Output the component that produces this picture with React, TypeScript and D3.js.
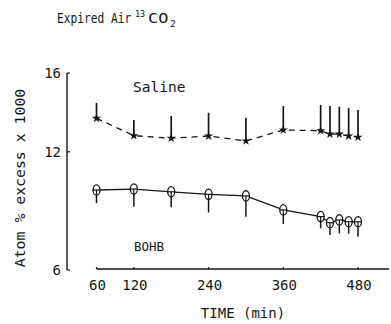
import React from "react";
import * as d3 from "d3";

const times = [60, 120, 180, 240, 300, 360, 420, 435, 450, 465, 480];
const salineMean = [13.7, 12.82, 12.69, 12.8, 12.55, 13.11, 13.07, 12.9, 12.9, 12.8, 12.74];
const salineUpper = [14.48, 13.61, 13.82, 13.98, 13.73, 14.32, 14.38, 14.32, 14.29, 14.22, 14.12];
const bohbMean = [10.06, 10.11, 9.97, 9.84, 9.76, 9.05, 8.71, 8.4, 8.54, 8.45, 8.45];
const bohbLower = [9.39, 9.21, 9.18, 8.92, 8.7, 8.34, 8.12, 7.78, 7.86, 7.84, 7.69];
const xTicks = [60, 120, 240, 360, 480];
const yTicks = [6, 12, 16];

const W = 391;
const H = 324;
const FONT = "'DejaVu Sans Mono', 'Liberation Mono', monospace";
const INK = "#161616";

export default function App() {
  const x = d3.scaleLinear().domain([60, 480]).range([96.5, 358]);
  const y = d3.scaleLinear().domain([6, 16]).range([270, 73]);
  const axisX = 67;
  const axisY = 269;

  const salinePts = times.map((t, i) => [x(t), y(salineMean[i])] as [number, number]);
  const bohbPts = times.map((t, i) => [x(t), y(bohbMean[i])] as [number, number]);
  const line = d3.line();
  const star = d3.symbol().type(d3.symbolStar).size(26)();

  return (
    <svg width={W} height={H} style={{ position: "absolute", left: 0, top: 0, background: "#fff" }}>
      <rect x={0} y={0} width={W} height={H} fill="#fff" />
      {/* title */}
      <text transform="translate(57,23) scale(0.83,1)" fontFamily={FONT} fontSize={13.5} fill={INK}>
        Expired Air
      </text>
      <text x={135} y={16.5} fontFamily={FONT} fontSize={8.5} fill={INK}>
        13
      </text>
      <text transform="translate(148,23) scale(1.25,1)" fontFamily={FONT} fontSize={13.5} fill={INK}>
        CO
      </text>
      <text x={170} y={27} fontFamily={FONT} fontSize={9.5} fill={INK}>
        2
      </text>

      {/* y axis */}
      <line x1={axisX} x2={axisX} y1={y(16)} y2={y(6)} stroke={INK} strokeWidth={1.4} />
      {yTicks.map((v) => (
        <g key={v}>
          <line x1={axisX} x2={axisX + 3} y1={y(v)} y2={y(v)} stroke={INK} strokeWidth={1.2} />
          <text x={61} y={y(v)} dy="0.36em" textAnchor="end" fontFamily={FONT} fontSize={14} fill={INK}>
            {v}
          </text>
        </g>
      ))}
      <text
        transform={`translate(20,178) rotate(-90) scale(1.06,1)`}
        textAnchor="middle"
        dy="0.36em"
        fontFamily={FONT}
        fontSize={14}
        fill={INK}
      >
        Atom % excess x 1000
      </text>

      {/* x axis */}
      <line x1={x(60)} x2={x(530)} y1={axisY} y2={axisY} stroke={INK} strokeWidth={1.4} />
      {xTicks.map((t) => (
        <g key={t}>
          <line x1={x(t)} x2={x(t)} y1={axisY} y2={axisY - 2} stroke={INK} strokeWidth={1.2} />
          <text x={x(t) + 1} y={285} dy="0.36em" textAnchor="middle" fontFamily={FONT} fontSize={14} fill={INK}>
            {t}
          </text>
        </g>
      ))}
      <text x={243} y={313} dy="0.36em" textAnchor="middle" fontFamily={FONT} fontSize={14} fill={INK}>
        TIME (min)
      </text>

      {/* Saline series */}
      <path d={line(salinePts) || ""} fill="none" stroke={INK} strokeWidth={1.3} strokeDasharray="6,5" />
      {times.map((t, i) => (
        <line key={"se" + i} x1={x(t)} x2={x(t)} y1={y(salineMean[i])} y2={y(salineUpper[i])} stroke={INK} strokeWidth={1.7} />
      ))}
      {salinePts.map(([px, py], i) => (
        <path key={"sm" + i} d={star || ""} transform={`translate(${px},${py})`} fill={INK} />
      ))}
      <text x={133} y={87} dy="0.36em" fontFamily={FONT} fontSize={14.5} fill={INK}>
        Saline
      </text>

      {/* BOHB series */}
      <path d={line(bohbPts) || ""} fill="none" stroke={INK} strokeWidth={1.3} />
      {times.map((t, i) => (
        <line key={"be" + i} x1={x(t)} x2={x(t)} y1={y(bohbMean[i])} y2={y(bohbLower[i])} stroke={INK} strokeWidth={1.5} />
      ))}
      {bohbPts.map(([px, py], i) => (
        <g key={"bm" + i}>
          <ellipse cx={px} cy={py} rx={3.5} ry={5.2} fill="#fff" stroke={INK} strokeWidth={1.3} />
          <line x1={px - 3.5} x2={px + 3.5} y1={py} y2={py} stroke={INK} strokeWidth={1.2} />
          <line x1={px} x2={px} y1={py} y2={py + 5.2} stroke={INK} strokeWidth={1.2} />
        </g>
      ))}
      <text x={134} y={246} dy="0.36em" fontFamily={FONT} fontSize={12.5} fill={INK}>
        BOHB
      </text>
    </svg>
  );
}
